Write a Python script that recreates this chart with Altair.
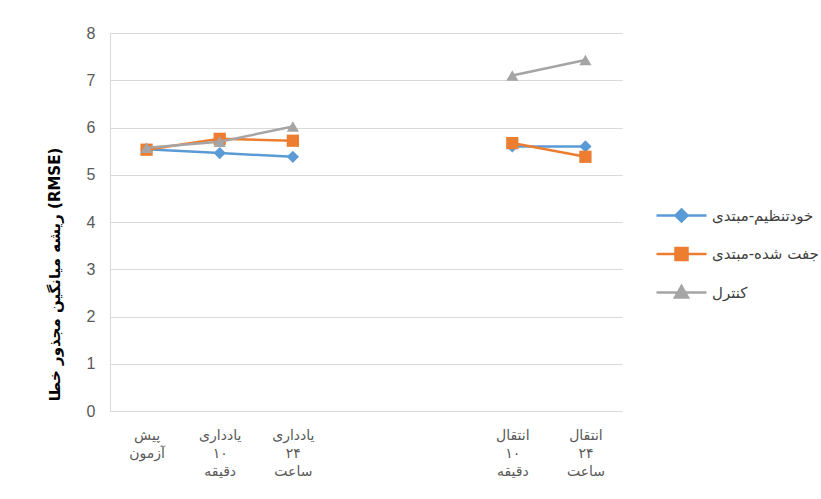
import altair as alt
import pandas as pd

# ---- data ----
categories = ["پیش|آزمون", "یادداری|۱۰|دقیقه", "یادداری|۲۴|ساعت", "_gap1", "_gap2",
              "انتقال|۱۰|دقیقه", "انتقال|۲۴|ساعت"]
measured_idx = [0, 1, 2, 5, 6]
segment = [1, 1, 1, 2, 2]
series_names = ["خودتنظیم-مبتدی", "جفت شده-مبتدی", "کنترل"]
self_regulated = [5.54, 5.46, 5.38, 5.60, 5.60]
yoked = [5.53, 5.76, 5.72, 5.67, 5.38]
control = [5.57, 5.70, 6.02, 7.10, 7.43]
colors = ["#5B9BD5", "#ED7D31", "#A5A5A5"]
shapes = ["diamond", "square", "triangle-up"]
y_title = "ریشه میانگین مجذور خطا (RMSE)"

rows = []
for s_name, vals in zip(series_names, [self_regulated, yoked, control]):
    for i, v, seg in zip(measured_idx, vals, segment):
        rows.append({"stage": categories[i], "value": v, "series": s_name, "seg": seg})
df = pd.DataFrame(rows)

# legend symbols: a short line with the marker in its middle
legend_paths = [
    "M-2.5,0L2.5,0M0,-0.6L0.6,0L0,0.6L-0.6,0Z",
    "M-2.5,0L2.5,0M-0.6,-0.6L0.6,-0.6L0.6,0.6L-0.6,0.6Z",
    "M-2.5,0L2.5,0M0,-0.65L0.65,0.5L-0.65,0.5Z",
]

legend = alt.Legend(
    title=None, orient="none", legendX=560, legendY=171,
    labelFontSize=15, labelColor="#404040", labelFont="DejaVu Sans",
    rowPadding=15.5, symbolSize=400, labelOffset=19, labelLimit=200,
    symbolStrokeWidth=2.5, symbolOpacity=1,
)

color_scale = alt.Scale(domain=series_names, range=colors)

x_enc = alt.X(
    "stage:N",
    sort=categories,
    scale=alt.Scale(type="point", domain=categories, padding=0.5),
    axis=alt.Axis(
        title=None,
        labelAngle=0,
        labelExpr="indexof(datum.label, '_') == 0 ? '' : split(datum.label, '|')",
        labelFontSize=14, labelColor="#595959", labelFont="DejaVu Sans",
        labelPadding=17, labelLineHeight=18, ticks=False, grid=False,
        domainColor="#d9d9d9", domainWidth=1,
    ),
)
y_enc = alt.Y(
    "value:Q",
    scale=alt.Scale(domain=[0, 8], nice=False, zero=True),
    axis=alt.Axis(
        values=list(range(9)), title=y_title,
        labelFontSize=16, labelColor="#595959", labelFont="Liberation Sans",
        labelPadding=15, ticks=False, domain=True, domainColor="#d9d9d9",
        gridColor="#d9d9d9", gridWidth=1,
        titleFontSize=15, titleFontWeight="bold", titleColor="#000000",
        titleFont="DejaVu Sans", titleX=-56, titleY=241, titleAngle=270,
        titleAlign="center", titleBaseline="middle",
    ),
)

# legend-only layer: zero-size marks, drawn first so nothing shows
legend_layer = (
    alt.Chart(df)
    .mark_point(filled=True, opacity=1, size=0, strokeWidth=2.5)
    .encode(
        x=x_enc, y=y_enc,
        fill=alt.Fill("series:N", scale=alt.Scale(domain=series_names, range=colors), legend=legend),
        stroke=alt.Stroke("series:N", scale=alt.Scale(domain=series_names, range=colors), legend=legend),
        shape=alt.Shape("series:N", scale=alt.Scale(domain=series_names, range=legend_paths), legend=legend),
    )
)
layers = [legend_layer]
for s_name, shp in zip(series_names, shapes):
    base = alt.Chart(df).transform_filter(alt.datum.series == s_name)
    layers.append(base.mark_line(strokeWidth=2.5).encode(
        x=x_enc, y=y_enc,
        color=alt.Color("series:N", scale=color_scale, legend=None),
        detail="seg:N",
    ))
    layers.append(base.mark_point(shape=shp, filled=True, opacity=1, size=150).encode(
        x=x_enc, y=y_enc,
        color=alt.Color("series:N", scale=color_scale, legend=None),
    ))

chart = (
    alt.layer(*layers)
    .properties(
        width=512, height=378,
        autosize=alt.AutoSizeParams(type="none"),
        padding={"left": 110, "top": 33, "right": 199, "bottom": 88},
        background="white",
    )
    .configure_view(stroke=None)
)

chart.save("out.html", embed_options={"renderer": "svg", "actions": False})
